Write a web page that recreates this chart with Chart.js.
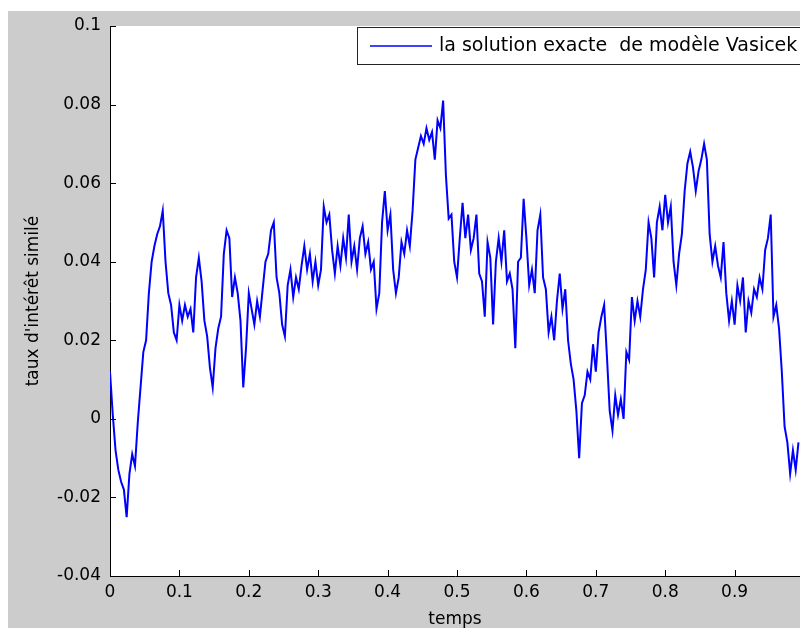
<!DOCTYPE html>
<html><head><meta charset="utf-8">
<script src="https://cdn.jsdelivr.net/npm/chart.js@4.4.1/dist/chart.umd.min.js"></script>
<style>html,body{margin:0;padding:0;background:#fff;overflow:hidden}</style>
</head><body>
<canvas id="c" width="800" height="628" style="display:block;width:800px;height:628px"></canvas>
<script>
const seriesLabel = "la solution exacte  de modèle Vasicek";
const xTitle = "temps";
const yTitle = "taux d'intérêt similé";
const dt = 0.004;
const rates = [
 0.012, 0.001,-0.008,-0.013,-0.016,-0.018,-0.025,-0.014,-0.009,-0.012,
-0.001, 0.008, 0.017, 0.020, 0.032, 0.040, 0.044, 0.047, 0.049, 0.053,
 0.040, 0.032, 0.029, 0.022, 0.020, 0.029, 0.025, 0.029, 0.026, 0.028,
 0.022, 0.036, 0.041, 0.035, 0.025, 0.021, 0.013, 0.008, 0.018, 0.023,
 0.026, 0.042, 0.048, 0.046, 0.031, 0.036, 0.032, 0.025, 0.008, 0.018,
 0.032, 0.028, 0.024, 0.030, 0.026, 0.033, 0.040, 0.042, 0.048, 0.050,
 0.036, 0.032, 0.024, 0.021, 0.034, 0.038, 0.031, 0.036, 0.033, 0.039,
 0.044, 0.038, 0.042, 0.035, 0.040, 0.034, 0.038, 0.054, 0.050, 0.052,
 0.043, 0.037, 0.044, 0.039, 0.046, 0.041, 0.052, 0.040, 0.044, 0.038,
 0.046, 0.049, 0.042, 0.045, 0.038, 0.040, 0.028, 0.032, 0.050, 0.058,
 0.048, 0.052, 0.038, 0.032, 0.036, 0.045, 0.042, 0.048, 0.044, 0.053,
 0.066, 0.069, 0.072, 0.070, 0.074, 0.071, 0.073, 0.066, 0.076, 0.074,
 0.081, 0.062, 0.051, 0.052, 0.040, 0.036, 0.046, 0.055, 0.046, 0.052,
 0.043, 0.046, 0.052, 0.037, 0.035, 0.026, 0.045, 0.041, 0.024, 0.040,
 0.046, 0.040, 0.048, 0.035, 0.037, 0.033, 0.018, 0.040, 0.041, 0.056,
 0.046, 0.034, 0.038, 0.032, 0.048, 0.052, 0.036, 0.033, 0.022, 0.026,
 0.020, 0.030, 0.037, 0.028, 0.033, 0.020, 0.014, 0.010, 0.002,-0.010,
 0.004, 0.006, 0.012, 0.010, 0.019, 0.012, 0.022, 0.026, 0.029, 0.016,
 0.002,-0.003, 0.006, 0.001, 0.005, 0.000, 0.017, 0.015, 0.031, 0.025,
 0.030, 0.026, 0.033, 0.038, 0.050, 0.046, 0.036, 0.050, 0.054, 0.048,
 0.057, 0.050, 0.054, 0.040, 0.034, 0.042, 0.047, 0.058, 0.065, 0.068,
 0.064, 0.058, 0.063, 0.066, 0.070, 0.066, 0.047, 0.040, 0.044, 0.039,
 0.036, 0.045, 0.032, 0.025, 0.030, 0.024, 0.034, 0.030, 0.036, 0.022,
 0.030, 0.027, 0.033, 0.031, 0.036, 0.033, 0.043, 0.046, 0.052, 0.026,
 0.029, 0.023, 0.012,-0.002,-0.006,-0.014,-0.008,-0.013,-0.006
];
const times = rates.map((_, i) => +(i * dt).toFixed(3));
const xTickValues = [0, 0.1, 0.2, 0.3, 0.4, 0.5, 0.6, 0.7, 0.8, 0.9];
const yTickValues = [-0.04, -0.02, 0, 0.02, 0.04, 0.06, 0.08, 0.1];
const xMin = 0, xMax = 0.9942, yMin = -0.04, yMax = 0.1;

const FONT = "'DejaVu Sans', sans-serif";
Chart.defaults.color = '#000';
Chart.defaults.font.family = FONT;

const fmt = v => String(+v.toFixed(2));

const decor = {
  id: 'decor',
  beforeDraw(chart) {
    const ctx = chart.ctx, a = chart.chartArea;
    ctx.save();
    ctx.fillStyle = '#fff';
    ctx.fillRect(0, 0, chart.width, chart.height);
    ctx.fillStyle = '#cccccc';
    ctx.fillRect(8, 11, chart.width - 8, chart.height - 11);
    ctx.fillStyle = '#fff';
    ctx.fillRect(a.left, a.top, a.right - a.left, a.bottom - a.top);
    ctx.restore();
  },
  afterDraw(chart) {
    const ctx = chart.ctx, a = chart.chartArea;
    const xs = chart.scales.x, ys = chart.scales.y;
    ctx.save();
    ctx.strokeStyle = '#000';
    ctx.lineWidth = 1;
    ctx.beginPath();
    xTickValues.forEach(v => {
      const px = Math.round(xs.getPixelForValue(v)) + 0.5;
      ctx.moveTo(px, a.bottom); ctx.lineTo(px, a.bottom - 6);
    });
    yTickValues.forEach(v => {
      const py = Math.round(ys.getPixelForValue(v)) + 0.5;
      ctx.moveTo(a.left, py); ctx.lineTo(a.left + 6, py);
    });
    ctx.stroke();
    // legend box
    const ds = chart.data.datasets[0];
    const bx = 357.5, by = 27.5, bh = 37;
    ctx.fillStyle = '#fff';
    ctx.fillRect(bx, by, chart.width - bx + 2, bh);
    ctx.strokeStyle = '#222';
    ctx.strokeRect(bx, by, chart.width - bx + 2, bh);
    ctx.strokeStyle = ds.borderColor;
    ctx.lineWidth = 1.5;
    ctx.beginPath();
    ctx.moveTo(370, 46); ctx.lineTo(432, 46);
    ctx.stroke();
    ctx.fillStyle = '#000';
    ctx.font = "19px " + FONT;
    ctx.textBaseline = 'middle';
    ctx.textAlign = 'left';
    ctx.fillText(ds.label, 439, 46);
    ctx.restore();
  }
};

new Chart(document.getElementById('c'), {
  type: 'line',
  data: {
    datasets: [{
      label: seriesLabel,
      data: times.map((t, i) => ({x: t, y: rates[i]})),
      borderColor: '#0000ff',
      borderWidth: 2,
      pointRadius: 0,
      tension: 0,
      fill: false
    }]
  },
  options: {
    responsive: false,
    animation: false,
    devicePixelRatio: 1,
    layout: {padding: {left: 8, top: 26, right: 0, bottom: 0}},
    plugins: {legend: {display: false}, tooltip: {enabled: false}},
    scales: {
      x: {
        type: 'linear', min: xMin, max: xMax,
        afterFit: s => { s.height = 52; },
        afterBuildTicks: s => { s.ticks = xTickValues.map(v => ({value: v})); },
        ticks: {font: {size: 17}, padding: 6, maxRotation: 0, autoSkip: false, callback: v => fmt(v)},
        grid: {display: true, drawOnChartArea: false, drawTicks: false},
        border: {display: true, color: '#000', width: 1},
        title: {display: true, text: xTitle, font: {size: 17, lineHeight: 1}, padding: {top: 0, bottom: 0}}
      },
      y: {
        type: 'linear', min: yMin, max: yMax,
        afterFit: s => { s.width = 102; },
        afterBuildTicks: s => { s.ticks = yTickValues.map(v => ({value: v})); },
        ticks: {font: {size: 17}, padding: 9, autoSkip: false, callback: v => fmt(v)},
        grid: {display: true, drawOnChartArea: false, drawTicks: false},
        border: {display: true, color: '#000', width: 1},
        title: {display: true, text: yTitle, font: {size: 17}, padding: {top: 15, bottom: 0}}
      }
    }
  },
  plugins: [decor]
});
</script>
</body></html>
